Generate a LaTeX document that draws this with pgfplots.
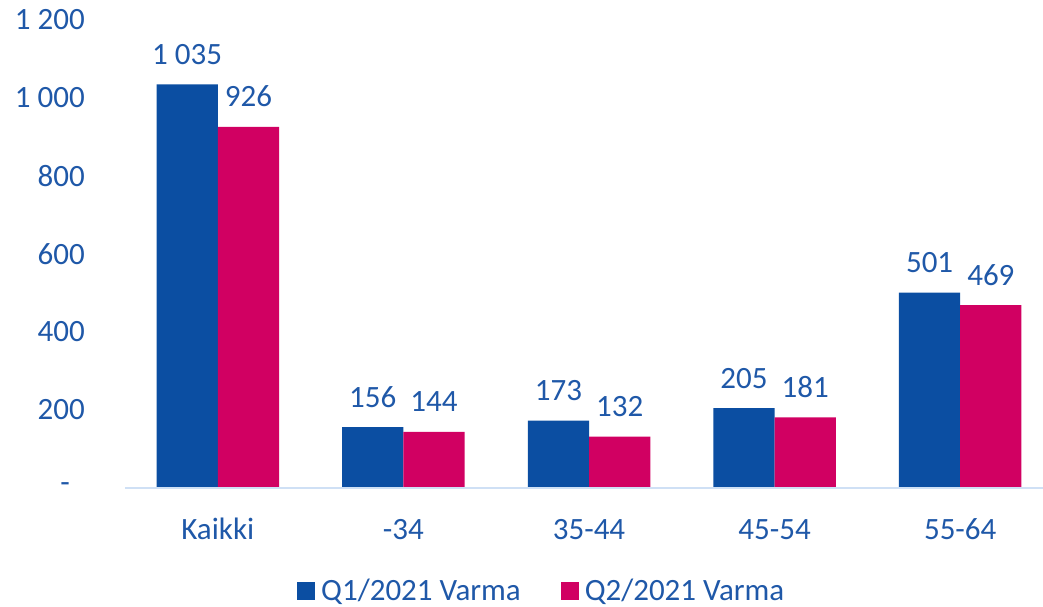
\documentclass[border=0pt]{standalone}
\usepackage{fontspec}
\setmainfont{Carlito}
\usepackage{pgfplots}
\pgfplotsset{compat=1.18}
\definecolor{vblue}{HTML}{0B4EA2}
\definecolor{vpink}{HTML}{D10062}
\definecolor{vtext}{HTML}{1F58A8}
\definecolor{vaxis}{HTML}{CFE0F5}
\newcommand\cf{\fontsize{31bp}{37bp}\selectfont}
\begin{document}
\begin{tikzpicture}
\useasboundingbox (-125bp,-119bp) rectangle (918bp,488bp);
\begin{axis}[
  scale only axis, width=918bp, height=468bp,
  xmin=-0.5, xmax=4.446, ymin=0, ymax=1200,
  axis line style={draw=none},
  major tick length=0pt,
  xtick={0,1,2,3,4},
  xticklabels={Kaikki,-34,35-44,45-54,55-64},
  ytick={0,200,400,600,800,1000,1200},
  yticklabels={-\rule{15bp}{0pt},200,400,600,800,1~000,1~200},
  xticklabel style={font=\cf, text=vtext, anchor=base, inner sep=0pt, yshift=-51bp},
  yticklabel style={font=\cf, text=vtext, anchor=east, inner sep=0pt, xshift=-40bp},
  ybar, bar width=0.33,
  nodes near coords={\pgfmathprintnumber[assume math mode=true,1000 sep={~}]{\pgfplotspointmeta}},
  every node near coord/.append style={font=\cf, text=vtext, anchor=base, inner sep=0pt, yshift=20bp},
  legend style={at={(rel axis cs:0.454,-0.220)}, anchor=center, draw=none, fill=none,
    font=\cf, text=vtext, legend columns=2,
    /tikz/every odd column/.append style={column sep=4bp},
    /tikz/every even column/.append style={column sep=38bp}},
  clip=false,
]
\addplot[fill=vblue, draw=none, bar shift=-0.165,
  legend image code/.code={\fill[vblue] (0bp,-9bp) rectangle (18bp,9bp);}]
  coordinates {(0,1035) (1,156) (2,173) (3,205) (4,501)};
\addlegendentry{Q1/2021 Varma}
\addplot[fill=vpink, draw=none, bar shift=0.165,
  legend image code/.code={\fill[vpink] (0bp,-9bp) rectangle (18bp,9bp);}]
  coordinates {(0,926) (1,144) (2,132) (3,181) (4,469)};
\addlegendentry{Q2/2021 Varma}
\draw[vaxis, line width=2bp] (rel axis cs:0,0) -- (rel axis cs:1,0);
\end{axis}
\end{tikzpicture}
\end{document}
